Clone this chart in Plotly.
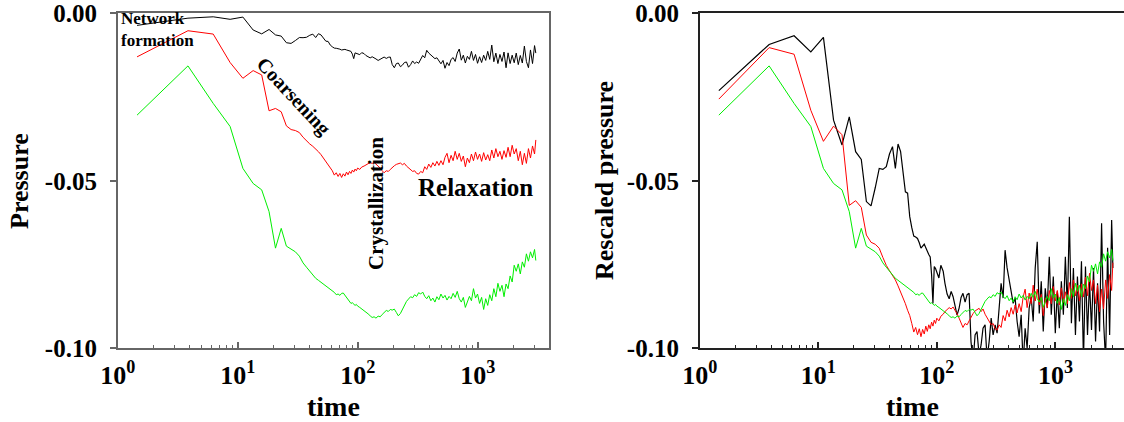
import numpy as np
import plotly.graph_objects as go

W, H = 1124, 422

# ---------------- data ----------------
t_early = [1.45, 3.85, 6.25, 8.65, 11.05, 13.45, 15.85, 18.25, 20.65, 23.05,
           25.45, 27.85, 30.25, 32.65, 35.05, 37.45, 39.85, 42.25, 44.65, 47.05,
           49.45, 51.85, 54.25, 56.65, 59.05, 61.45, 63.85, 66.25, 68.65, 71.05,
           73.45, 75.85, 78.25, 80.65, 83.05, 85.45, 87.85, 90.25, 92.65, 95.05,
           97.45, 99.85]
t_late = [104, 108, 113, 117, 122, 127, 132, 137, 142, 148,
          154, 160, 166, 173, 180, 187, 194, 202, 210, 218,
          227, 236, 245, 255, 265, 276, 287, 298, 310, 322,
          335, 348, 362, 376, 391, 407, 423, 440, 457, 475,
          494, 514, 534, 555, 577, 600, 624, 649, 675, 702,
          730, 759, 789, 820, 853, 887, 922, 959, 997, 1037,
          1078, 1121, 1166, 1212, 1260, 1310, 1363, 1417, 1474, 1532,
          1593, 1657, 1723, 1791, 1863, 1937, 2014, 2094, 2178, 2265,
          2355, 2449, 2546, 2648, 2753, 2863, 2977, 3050]

green_pressure = [
    -0.0304, -0.0157, -0.0269, -0.0338, -0.0463, -0.0508, -0.0527, -0.0592, -0.0701, -0.0642,
    -0.0695, -0.0703, -0.0712, -0.0725, -0.0745, -0.0758, -0.0770, -0.0783, -0.0791, -0.0797,
    -0.0803, -0.0808, -0.0812, -0.0818, -0.0824, -0.0829, -0.0833, -0.0840, -0.0838, -0.0842,
    -0.0836, -0.0835, -0.0842, -0.0848, -0.0855, -0.0862, -0.0866, -0.0864, -0.0868, -0.0872,
    -0.0869, -0.0874,
    -0.0878, -0.0882, -0.0887, -0.0891, -0.0897, -0.0903, -0.0908, -0.0906, -0.0910, -0.0904,
    -0.0906, -0.0899, -0.0893, -0.0887, -0.0890, -0.0884, -0.0886, -0.0883, -0.0893, -0.0903,
    -0.0896, -0.0884, -0.0868, -0.0860, -0.0853, -0.0846, -0.0849, -0.0840, -0.0845, -0.0834,
    -0.0838, -0.0832, -0.0845, -0.0852, -0.0843, -0.0858, -0.0850, -0.0862, -0.0846, -0.0855,
    -0.0838, -0.0850, -0.0842, -0.0856, -0.0845, -0.0852, -0.0836, -0.0848, -0.0830, -0.0852,
    -0.0862, -0.0848, -0.0878, -0.0860, -0.0845, -0.0858, -0.0822, -0.0850, -0.0838, -0.0866,
    -0.0848, -0.0884, -0.0852, -0.0872, -0.0840, -0.0858, -0.0822, -0.0846, -0.0806, -0.0830,
    -0.0812, -0.0846, -0.0808, -0.0822, -0.0784, -0.0802, -0.0752, -0.0770, -0.0748, -0.0778,
    -0.0742, -0.0758, -0.0718, -0.0740, -0.0712, -0.0730, -0.0705, -0.0738]

red_pressure = [
    -0.0130, -0.0052, -0.0062, -0.0147, -0.0194, -0.0171, -0.0184, -0.0291, -0.0284, -0.0294,
    -0.0336, -0.0347, -0.0350, -0.0356, -0.0370, -0.0382, -0.0390, -0.0397, -0.0404, -0.0413,
    -0.0422, -0.0432, -0.0440, -0.0450, -0.0458, -0.0470, -0.0483, -0.0476, -0.0487, -0.0478,
    -0.0490, -0.0479, -0.0486, -0.0474, -0.0482, -0.0472, -0.0478, -0.0468, -0.0474, -0.0465,
    -0.0470, -0.0462,
    -0.0466, -0.0459, -0.0456, -0.0452, -0.0449, -0.0446, -0.0448, -0.0445, -0.0450, -0.0455,
    -0.0462, -0.0470, -0.0476, -0.0470, -0.0472, -0.0466, -0.0460, -0.0455, -0.0451, -0.0449,
    -0.0447, -0.0452, -0.0448, -0.0456, -0.0462, -0.0466, -0.0472, -0.0470, -0.0478, -0.0480,
    -0.0472, -0.0476, -0.0458, -0.0466, -0.0450, -0.0460, -0.0446, -0.0456, -0.0442, -0.0454,
    -0.0440, -0.0452, -0.0430, -0.0418, -0.0446, -0.0424, -0.0440, -0.0412, -0.0436, -0.0418,
    -0.0442, -0.0426, -0.0458, -0.0432, -0.0446, -0.0420, -0.0440, -0.0414, -0.0436, -0.0420,
    -0.0442, -0.0416, -0.0438, -0.0422, -0.0440, -0.0408, -0.0432, -0.0404, -0.0428, -0.0412,
    -0.0436, -0.0410, -0.0430, -0.0400, -0.0428, -0.0394, -0.0420, -0.0404, -0.0440, -0.0412,
    -0.0452, -0.0418, -0.0448, -0.0404, -0.0432, -0.0396, -0.0420, -0.0378]

black_rescaled = [
    -0.0231, -0.0093, -0.0067, -0.0115, -0.0072, -0.0319, -0.0393, -0.0309, -0.0413, -0.0436,
    -0.0562, -0.0575, -0.0520, -0.0463, -0.0466, -0.0458, -0.0420, -0.0398, -0.0463, -0.0390,
    -0.0413, -0.0480, -0.0533, -0.0537, -0.0607, -0.0640, -0.0665, -0.0668, -0.0672, -0.0685,
    -0.0701, -0.0695, -0.0689, -0.0700, -0.0712, -0.0720, -0.0727, -0.0780, -0.0866, -0.0756,
    -0.0762, -0.0775,
    -0.0790, -0.0752, -0.0770, -0.0806, -0.0838, -0.0852, -0.0830, -0.0846, -0.0872, -0.0901,
    -0.0880, -0.0848, -0.0836, -0.0862, -0.0840, -0.0836, -0.0980, -0.1040, -0.0960, -0.0950,
    -0.1020, -0.0990, -0.0940, -0.0930, -0.1030, -0.0980, -0.0910, -0.0960, -0.0930, -0.0955,
    -0.0880, -0.0806, -0.0850, -0.0707, -0.0760, -0.0790, -0.0830, -0.0866, -0.0850, -0.0920,
    -0.0965, -0.0900, -0.1050, -0.0940, -0.1000, -0.0880, -0.0846, -0.0920, -0.0760, -0.0682,
    -0.0896, -0.0800, -0.0950, -0.0821, -0.0880, -0.0727, -0.0900, -0.0786, -0.0955, -0.0830,
    -0.0940, -0.0800, -0.0900, -0.0727, -0.0880, -0.0607, -0.0925, -0.0760, -0.0960, -0.0786,
    -0.0920, -0.0740, -0.1040, -0.0756, -0.0960, -0.0800, -0.0945, -0.0760, -0.0980, -0.0806,
    -0.0950, -0.0627, -0.0920, -0.1040, -0.0700, -0.0960, -0.0617, -0.0760]

# rescaling factors (rescaled pressure = factor * pressure)
black_factor = 6.4
red_factor = 1.97
green_factor = 1.0

x_tickvals = [1, 10, 100, 1000]
x_ticktext = ["10<sup>0</sup>", "10<sup>1</sup>", "10<sup>2</sup>", "10<sup>3</sup>"]
y_tickvals = [-0.10, -0.05, 0.0]
y_ticktext = ["-0.10", "-0.05", "0.00"]

# ---------------- derived ----------------
t = np.array(t_early + t_late, dtype=float)
black_p = np.array(black_rescaled) / black_factor
red_p = np.array(red_pressure)
green_p = np.array(green_pressure)
black_r = np.array(black_rescaled)
red_r = red_p * red_factor
green_r = green_p * green_factor

FONT = "Times New Roman, Liberation Serif, serif"

def px(x):
    return x / W

def py(y):
    return 1 - y / H

fig = go.Figure()
colors = ["#000000", "#ff0000", "#00ee00"]
for ys, c in zip([black_p, red_p, green_p], colors):
    fig.add_trace(go.Scatter(x=t, y=ys, mode="lines", line=dict(color=c, width=1),
                             xaxis="x", yaxis="y", showlegend=False))
for ys, c, w in zip([black_r, red_r, green_r], colors, [1.2, 1, 1]):
    fig.add_trace(go.Scatter(x=t, y=ys, mode="lines", line=dict(color=c, width=w),
                             xaxis="x2", yaxis="y2", showlegend=False))

minor_vals = [m * 10 ** d for d in range(0, 4) for m in range(2, 10)]

def xaxis(domain, rng, color):
    return dict(domain=domain, type="log", range=rng, showgrid=False, zeroline=False,
                automargin=False,
                showline=True, linecolor=color, linewidth=1.5, mirror=True,
                tickmode="array", tickvals=x_tickvals, ticktext=x_ticktext,
                ticks="inside", ticklen=7, tickwidth=1.5, tickcolor=color,
                ticklabelstandoff=3,
                minor=dict(ticks="inside", ticklen=4, tickwidth=1.2, tickcolor=color,
                           tickvals=minor_vals, showgrid=False),
                tickfont=dict(family=FONT, size=26, color="black", weight="bold"))

def yaxis(domain, anchor, color, mirror):
    return dict(domain=domain, anchor=anchor, range=[-0.1, 0.0], showgrid=False, zeroline=False,
                automargin=False,
                showline=True, linecolor=color, linewidth=1.5, mirror=mirror,
                tickmode="array", tickvals=y_tickvals, ticktext=y_ticktext,
                ticks="outside", ticklen=6, tickwidth=1.5, tickcolor=color,
                ticklabelstandoff=8,
                tickfont=dict(family=FONT, size=25, color="black", weight="bold"))

ydom = [py(348.3), py(13.3)]
fig.update_layout(
    width=W, height=H, margin=dict(l=0, r=0, t=0, b=0, autoexpand=False),
    paper_bgcolor="white", plot_bgcolor="white",
    xaxis=dict(xaxis([px(117.7), px(548.5)], [0, 3.59], "#666666"), anchor="y"),
    yaxis=yaxis(ydom, "x", "#666666", True),
    xaxis2=dict(xaxis([px(699.7), 1.0], [0, 3.578], "#222222"), anchor="y2"),
    yaxis2=yaxis(ydom, "x2", "#222222", False),
)

ann = []
def A(text, x, y, size, angle=0, xanchor="center", yanchor="middle", align="center"):
    ann.append(dict(text=text, x=px(x), y=py(y), xref="paper", yref="paper",
                    showarrow=False, textangle=angle, xanchor=xanchor, yanchor=yanchor,
                    align=align,
                    font=dict(family=FONT, size=size, color="black", weight="bold")))

A("Pressure", 19, 181, 26, angle=-90)
A("Rescaled pressure", 604, 181, 26, angle=-90)
A("time", 333, 406, 28)
A("time", 912, 406, 28)
A("Network<br>formation", 119, 30, 17, xanchor="left", align="left")
A("Coarsening", 294, 96, 20, angle=47)
A("Crystallization", 376, 204, 21, angle=-90)
A("Relaxation", 475, 188, 25)
fig.update_layout(annotations=ann)

fig.write_html("out.html")
